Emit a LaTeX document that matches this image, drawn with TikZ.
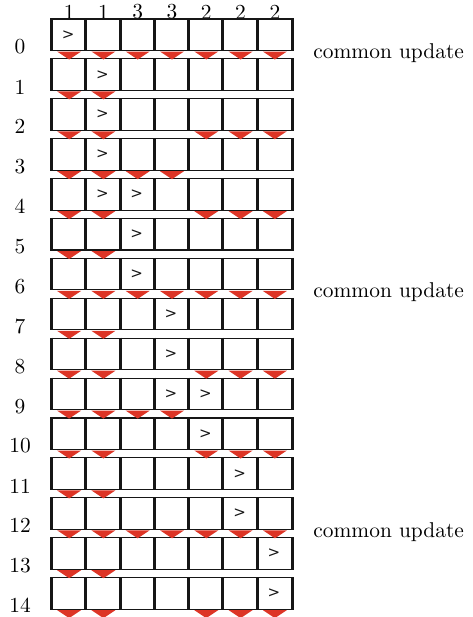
\documentclass[tikz,border=0pt]{standalone}
\usepackage{fontspec}
\usepackage{tikz}
\usetikzlibrary{positioning}
\newfontfamily\gtfont{DejaVu Sans}
\definecolor{ink}{HTML}{161616}
\definecolor{flag}{HTML}{DD3526}

\begin{document}
\begin{tikzpicture}[x=0.467pt,y=-0.467pt,
  cell/.style={draw=ink,line width=0.5pt,minimum width=16pt,minimum height=14.7pt,inner sep=0pt},
  wall/.style={draw=ink,line width=1.4pt},
  drop/.style={fill=flag},
  gt/.style={font=\gtfont\scriptsize,inner sep=0pt,text=ink},
  idx/.style={font=\normalsize,inner sep=0pt},
  note/.style={font=\normalsize,anchor=west,inner sep=0pt}
]
\useasboundingbox (0,0) rectangle (472,617);
% header weights
\foreach \n [count=\k from 0] in {1,1,3,3,2,2,2}
  \node[idx] (h-\k) at (69.14+34.29*\k,12) {\n};
% rows of cells
\foreach \r in {0,...,14}{
  \node[idx] (r-\r) at (20,47+39.9*\r) {\r};
  \foreach \k in {0,...,6}{
    \node[cell] (c-\r-\k) at (69.14+34.29*\k,34.75+39.9*\r) {};
    \draw[wall] (c-\r-\k.north west) -- (c-\r-\k.south west);
  }
  \draw[wall] (c-\r-6.north east) -- (c-\r-6.south east);
}
% red markers under the rows
\foreach \r/\cols in {0/{0,1,2,3,4,5,6},1/{0,1},2/{0,1,4,5,6},3/{0,1,2,3},4/{0,1,4,5,6},
  5/{0,1},6/{0,1,2,3,4,5,6},7/{0,1},8/{0,1,4,5,6},9/{0,1,2,3},10/{0,1,4,5,6},
  11/{0,1},12/{0,1,2,3,4,5,6},13/{0,1},14/{0,1,4,5,6}}
  \foreach \k in \cols
    \fill[drop] (c-\r-\k.south) ++(-12,0.5) -- ++(24,0) -- ++(-12,8) -- cycle;
% pointers
\foreach \r/\k in {0/0,1/1,2/1,3/1,4/1,4/2,5/2,6/2,7/3,8/3,9/3,9/4,10/4,11/5,12/5,13/6,14/6}
  \node[gt] (g-\r-\k) at ([shift={(-1,0)}]c-\r-\k) {>};
% common updates
\foreach \r in {0,6,12}
  \node[note] (u-\r) at (313,53+39.9*\r) {common update};
\end{tikzpicture}
\end{document}
